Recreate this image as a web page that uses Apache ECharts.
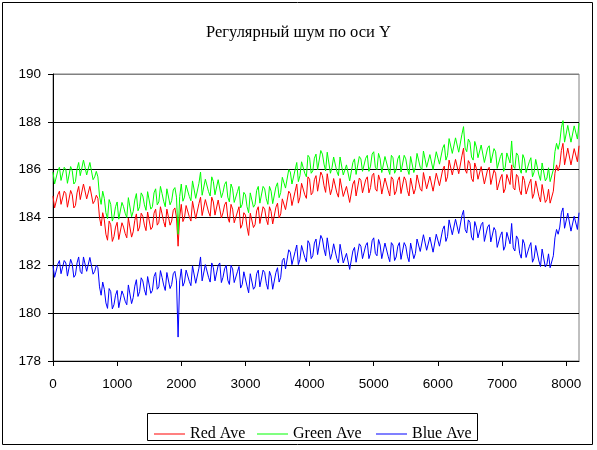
<!DOCTYPE html>
<html><head><meta charset="utf-8">
<script src="https://cdn.jsdelivr.net/npm/echarts@6/dist/echarts.min.js"></script>
<style>html,body{margin:0;padding:0;background:#fff}#c{width:597px;height:450px}</style>
</head><body><div id="c"></div>
<script>
const titleText = 'Регулярный шум по оси Y';
const seriesNames = ['Red Ave', 'Green Ave', 'Blue Ave'];
const seriesColors = ['#FF0000', '#00FF00', '#0000FF'];
const xTicks = [0, 1000, 2000, 3000, 4000, 5000, 6000, 7000, 8000];
const yTicks = [178, 180, 182, 184, 186, 188, 190];
// main sample positions along x (every 50 points, last one at the right edge)
const sampleX = [];
for (let i = 0; i < 164; i++) sampleX.push(i * 50);
sampleX.push(8200);

// readings at the main sample positions
const redAve = [
184.9,184.35,185.1,184.5,185.0,184.35,184.95,184.5,185.3,184.7,
185.35,184.7,185.35,184.7,184.8,183.65,183.9,183.05,183.7,183.2,
183.8,183.15,183.6,183.15,183.95,183.4,184.15,183.6,184.05,183.45,
184.2,183.6,184.35,183.8,184.15,183.6,184.4,183.85,184.4,182.8,
184.55,184.0,184.45,183.85,184.65,184.0,184.85,184.15,184.7,184.05,
184.65,184.15,184.8,184.2,184.65,183.8,184.35,183.75,184.45,183.7,
184.1,183.25,184.15,183.7,184.45,183.8,184.35,183.7,184.25,183.8,
184.6,184.15,184.8,184.3,185.0,184.55,185.4,184.85,185.45,184.8,
185.6,185.05,185.75,185.15,185.75,185.05,185.8,185.2,185.6,184.85,
185.6,184.9,185.25,184.65,185.55,184.9,185.55,184.95,185.7,185.25,
185.85,185.1,185.55,185.05,185.7,184.9,185.6,185.1,185.7,185.0,
185.55,184.9,185.7,185.2,185.75,185.1,185.9,185.25,185.75,185.15,
185.9,185.3,186.15,185.7,186.4,185.8,186.45,185.85,186.9,185.85,
186.25,185.5,186.05,185.55,186.2,185.35,186.1,185.45,185.85,185.1,
185.8,185.2,185.75,186.2,185.15,185.7,184.95,185.55,184.95,185.6,
185.0,185.45,184.65,185.4,184.75,184.6,185.1,186.2,186.2,187.1,
186.2,186.85,186.15,186.85,187.0
];
const greenAve = [
185.9,185.35,186.1,185.5,186.0,185.35,185.95,185.5,186.3,185.7,
186.35,185.7,186.35,185.7,185.7,184.55,184.8,183.95,184.55,184.05,
184.65,184.0,184.45,184.0,184.8,184.25,185.0,184.45,184.9,184.3,
185.05,184.45,185.2,184.65,185.0,184.45,185.25,184.7,185.25,183.3,
185.4,184.85,185.3,184.7,185.5,184.85,185.9,185.0,185.55,184.9,
185.5,185.0,185.65,185.05,185.5,184.65,185.2,184.6,185.3,184.55,
184.95,184.2,185.0,184.55,185.3,184.65,185.2,184.55,185.1,184.65,
185.45,185.05,185.7,185.2,185.9,185.45,186.3,185.75,186.35,185.7,
186.5,185.95,186.65,186.05,186.65,185.95,186.7,186.1,186.5,185.75,
186.5,185.8,186.15,185.55,186.45,185.8,186.45,185.85,186.6,186.15,
186.75,186.0,186.45,185.95,186.6,185.8,186.5,186.0,186.6,185.9,
186.45,185.8,186.6,186.1,186.65,186.0,186.8,186.15,186.65,186.05,
186.8,186.2,187.05,186.6,187.3,186.7,187.35,186.75,187.8,186.75,
187.15,186.4,186.95,186.45,187.1,186.25,187.0,186.35,186.75,186.0,
186.7,186.1,186.65,187.2,186.05,186.6,185.85,186.45,185.85,186.5,
185.9,186.35,185.55,186.3,185.65,185.5,186.0,187.1,187.15,188.05,
187.15,187.8,187.1,187.8,187.95
];
const blueAve = [
182.0,181.45,182.2,181.6,182.1,181.5,182.05,181.6,182.35,181.65,
182.3,181.7,182.4,181.75,181.9,180.75,181.0,180.2,180.9,180.35,
180.95,180.3,180.75,180.35,181.15,180.65,181.4,180.9,181.35,180.75,
181.5,180.95,181.7,181.1,181.5,180.95,181.75,181.2,181.75,179.0,
181.85,181.3,181.75,181.15,181.95,181.3,182.35,181.4,182.0,181.3,
181.9,181.4,182.1,181.5,182.0,181.2,181.85,181.25,181.95,181.2,
181.65,180.85,181.6,181.1,181.8,181.15,181.7,181.0,181.55,181.05,
181.9,181.5,182.3,181.85,182.55,182.05,182.85,182.25,182.85,182.15,
182.9,182.4,183.1,182.5,183.1,182.4,183.1,182.5,182.85,182.1,
182.85,182.1,182.45,181.85,182.75,182.15,182.8,182.2,182.95,182.5,
183.15,182.4,182.85,182.35,182.95,182.15,182.85,182.35,182.95,182.25,
182.8,182.15,183.0,182.5,183.1,182.5,183.3,182.7,183.2,182.6,
183.35,182.8,183.65,183.2,183.9,183.3,183.95,183.35,184.3,183.35,
183.8,183.05,183.6,183.1,183.8,182.95,183.7,183.05,183.45,182.7,
183.4,182.8,183.3,183.75,182.6,183.1,182.3,182.9,182.3,182.95,
182.3,182.75,181.95,182.7,182.05,181.9,182.4,183.5,183.6,184.4,
183.5,184.1,183.35,184.0,184.2
];
// readings half-way between consecutive main samples
const redMid = [
184.4,184.95,184.55,185.1,184.43,185.13,184.4,185.03,184.75,185.4,
184.78,185.3,184.58,184.93,184.0,184.2,183.3,183.85,183.0,183.6,
183.08,183.78,183.33,183.98,183.18,183.88,183.43,184.18,183.68,184.23,
183.5,184.18,183.68,184.45,183.83,184.35,183.68,184.3,184.0,184.03,
183.83,184.5,184.03,184.68,183.95,184.58,184.08,184.75,184.23,184.85,
184.1,184.73,183.98,184.53,184.0,184.55,183.78,184.23,183.55,184.2,
183.6,184.18,183.58,184.28,183.75,184.45,183.93,184.45,183.73,184.43,
183.98,184.78,184.33,185.1,184.5,185.1,184.6,185.43,184.95,185.7,
184.95,185.58,185.1,185.9,185.33,185.83,184.95,185.63,185.03,185.63,
184.88,185.3,184.63,185.4,184.9,185.65,185.03,185.58,185.03,185.75,
185.2,185.78,184.98,185.65,185.13,185.7,184.95,185.55,185.0,185.7,
185.13,185.65,184.98,185.78,185.2,185.88,185.2,185.73,185.1,185.85,
185.33,186.0,185.5,186.4,185.78,186.43,185.83,186.58,186.0,186.38,
185.63,186.28,185.6,186.13,185.4,186.0,185.38,185.98,185.15,185.65,
185.03,185.8,185.38,185.25,185.8,185.13,185.73,184.98,185.43,184.8,
185.53,184.88,185.38,184.63,185.18,184.68,185.85,185.95,186.8,186.2,
186.9,186.2,186.88,186.33
];
const greenMid = [
185.4,185.95,185.55,186.1,185.43,186.13,185.4,186.03,185.75,186.4,
185.78,186.3,185.58,185.93,184.9,185.1,184.2,184.75,183.85,184.45,
183.93,184.63,184.18,184.83,184.03,184.73,184.28,185.03,184.53,185.08,
184.35,185.03,184.53,185.3,184.68,185.2,184.53,185.15,184.85,184.88,
184.68,185.35,184.88,185.53,184.8,185.43,184.93,185.6,185.08,185.7,
184.95,185.58,184.83,185.38,184.85,185.4,184.63,185.08,184.4,185.05,
184.45,185.03,184.43,185.13,184.6,185.3,184.78,185.3,184.58,185.28,
184.83,185.68,185.23,186.0,185.4,186.0,185.5,186.33,185.85,186.6,
185.85,186.48,186.0,186.8,186.23,186.73,185.85,186.53,185.93,186.53,
185.78,186.2,185.53,186.3,185.8,186.55,185.93,186.48,185.93,186.65,
186.1,186.68,185.88,186.55,186.03,186.6,185.85,186.45,185.9,186.6,
186.03,186.55,185.88,186.68,186.1,186.78,186.1,186.63,186.0,186.75,
186.23,186.9,186.4,187.3,186.68,187.33,186.73,187.48,186.9,187.28,
186.53,187.18,186.5,187.03,186.3,186.9,186.28,186.88,186.05,186.55,
185.93,186.7,186.28,186.15,186.7,186.03,186.63,185.88,186.33,185.7,
186.43,185.78,186.28,185.53,186.08,185.58,186.75,186.85,187.75,187.15,
187.85,187.15,187.83,187.28
];
const blueMid = [
181.5,182.05,181.65,182.2,181.55,182.25,181.5,182.1,181.75,182.35,
181.75,182.33,181.63,182.0,181.1,181.3,180.43,181.03,180.18,180.75,
180.23,180.93,180.5,181.18,180.4,181.13,180.7,181.48,180.98,181.53,
180.83,181.53,181.0,181.78,181.18,181.7,181.03,181.65,181.35,181.35,
181.13,181.8,181.33,181.98,181.25,181.88,181.35,182.03,181.5,182.1,
181.35,182.0,181.28,181.85,181.38,182.0,181.28,181.73,181.05,181.73,
181.13,181.65,181.0,181.65,181.1,181.8,181.25,181.75,181.0,181.7,
181.3,182.2,181.85,182.65,182.03,182.58,182.03,182.83,182.33,183.03,
182.28,182.93,182.45,183.25,182.68,183.15,182.25,182.9,182.28,182.88,
182.1,182.5,181.83,182.6,182.13,182.9,182.28,182.83,182.28,183.03,
182.5,183.08,182.28,182.93,182.38,182.95,182.2,182.8,182.25,182.95,
182.38,182.93,182.28,183.1,182.58,183.28,182.63,183.18,182.55,183.3,
182.8,183.5,183.0,183.9,183.28,183.93,183.33,184.08,183.5,183.9,
183.18,183.83,183.15,183.7,183.0,183.6,182.98,183.58,182.75,183.25,
182.63,183.38,182.9,182.73,183.23,182.5,183.08,182.33,182.78,182.13,
182.83,182.18,182.68,181.93,182.48,181.98,183.15,183.3,184.2,183.55,
184.18,183.43,184.05,183.5
];
const mainValues = [redAve, greenAve, blueAve];
const midValues = [redMid, greenMid, blueMid];

function buildData(k) {
  const out = [];
  for (let i = 0; i < sampleX.length; i++) {
    out.push([sampleX[i], mainValues[k][i]]);
    if (i < sampleX.length - 1) out.push([(sampleX[i] + sampleX[i + 1]) / 2, midValues[k][i]]);
  }
  return out;
}

const serif = '"Liberation Serif","Times New Roman",serif';
const sans = '"Liberation Sans",Arial,sans-serif';
const chart = echarts.init(document.getElementById('c'), null, { renderer: 'canvas' });

const legendLefts = [154, 257, 376];
const option = {
  animation: false,
  backgroundColor: '#fff',
  title: {
    text: titleText, left: 'center', top: 19,
    textStyle: { fontFamily: serif, fontSize: 16.5, fontWeight: 'normal', color: '#000' }
  },
  grid: { left: 53, top: 74, right: 18, bottom: 89, show: true, borderColor: '#808080', borderWidth: 1 },
  xAxis: {
    type: 'value', min: 0, max: 8200, interval: 1000,
    axisLine: { show: true, lineStyle: { color: '#000', width: 1 } },
    axisTick: { show: true, length: 5, customValues: xTicks, lineStyle: { color: '#000' } },
    axisLabel: { customValues: xTicks, margin: 16, fontFamily: sans, fontSize: 13.5, color: '#000',
      formatter: v => String(v) },
    splitLine: { show: false }
  },
  yAxis: {
    type: 'value', min: yTicks[0], max: yTicks[yTicks.length - 1], interval: 2,
    axisLine: { show: true, lineStyle: { color: '#000', width: 1 } },
    axisTick: { show: true, length: 5, lineStyle: { color: '#000' } },
    axisLabel: { margin: 12, fontFamily: sans, fontSize: 13.5, color: '#000', formatter: v => String(v) },
    splitLine: { show: true, lineStyle: { color: ['#000', '#000', '#000', '#000', '#000', '#000', '#808080'], width: 1 } }
  },
  legend: seriesNames.map((n, k) => ({
    data: [n], left: legendLefts[k], top: 426, padding: 0,
    icon: 'rect', itemWidth: 31, itemHeight: 1,
    textStyle: { fontFamily: serif, fontSize: 16, color: '#000' }
  })),
  graphic: [
    { type: 'rect', shape: { x: 2.5, y: 2.5, width: 590, height: 442 }, style: { fill: 'none', stroke: '#000', lineWidth: 1 }, silent: true },
    { type: 'rect', shape: { x: 147.5, y: 413.5, width: 330, height: 27 }, style: { fill: 'none', stroke: '#000', lineWidth: 1 }, silent: true }
  ],
  series: seriesNames.map((n, k) => ({
    name: n, type: 'line', symbol: 'none', showSymbol: false,
    data: buildData(k),
    lineStyle: { color: seriesColors[k], width: 1 },
    itemStyle: { color: seriesColors[k] },
    emphasis: { disabled: true }
  }))
};
chart.setOption(option);
</script>
</body></html>
